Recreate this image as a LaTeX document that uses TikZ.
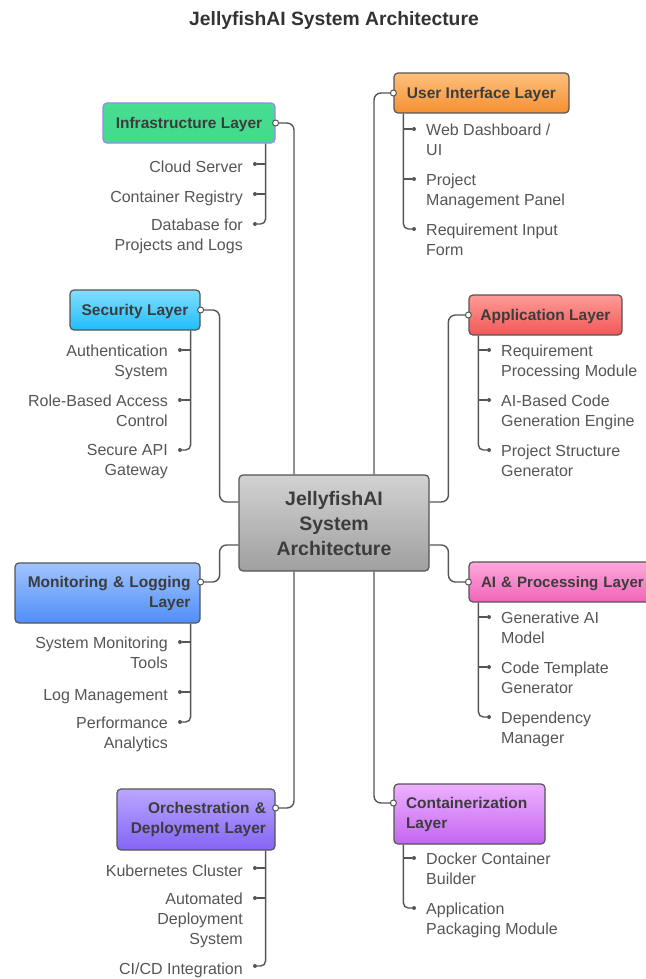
\documentclass[tikz,border=0pt]{standalone}
\usepackage{fontspec}
\setmainfont{Liberation Sans}
\definecolor{linec}{HTML}{555555}
\definecolor{boxtext}{HTML}{3C3C3C}
\definecolor{itemc}{HTML}{555555}
\definecolor{titlec}{HTML}{333333}
\begin{document}
\begin{tikzpicture}[x=1pt,y=-1pt,
  titlestyle/.style={font=\bfseries\fontsize{19.3}{23}\selectfont, text=titlec, inner sep=0pt},
  layer/.style={draw=linec, line width=1.2pt, rounded corners=4pt, font=\bfseries\fontsize{15.5}{20}\selectfont, text=boxtext, inner xsep=0pt, inner ysep=0pt, align=center},
  oneline/.style={text depth=0pt},
  conn/.style={draw=linec, line width=1.4pt, rounded corners=7pt},
  spine/.style={draw=linec, line width=1.4pt, rounded corners=5pt},
  dotn/.style={circle, fill=linec, inner sep=0pt, minimum size=4pt},
  port/.style={circle, draw=linec, fill=white, line width=1pt, inner sep=0pt, minimum size=6pt},
  itemR/.style={font=\fontsize{16}{20}\selectfont, text=itemc, inner sep=0pt, align=right, anchor=north east, execute at begin node=\strut},
  itemL/.style={font=\fontsize{16}{20}\selectfont, text=itemc, inner sep=0pt, align=left, anchor=north west, execute at begin node=\strut}
]
\useasboundingbox (0,0) rectangle (645,979);

\node[titlestyle] (title) at (334,21) {JellyfishAI System Architecture};

% central node
\node[layer, oneline, top color=gray!35, bottom color=gray!75, minimum width=190pt, minimum height=96pt, font=\bfseries\fontsize{19.5}{25}\selectfont] (core) at (334,523) {JellyfishAI\\System\\Architecture};

% layer boxes
\node[layer, oneline, draw={rgb,255:red,160;green,130;blue,245}, top color={rgb,255:red,72;green,222;blue,146}, bottom color={rgb,255:red,66;green,218;blue,140}, minimum width=172pt, minimum height=40pt] (infra) at (189,123) {Infrastructure Layer};
\node[layer, oneline, top color={rgb,255:red,255;green,192;blue,125}, bottom color={rgb,255:red,245;green,144;blue,48}, minimum width=175pt, minimum height=40pt] (ui) at (481.5,93) {User Interface Layer};
\node[layer, oneline, top color={rgb,255:red,130;green,222;blue,255}, bottom color={rgb,255:red,32;green,190;blue,250}, minimum width=130pt, minimum height=40pt] (sec) at (135,310) {Security Layer};
\node[layer, top color={rgb,255:red,160;green,196;blue,255}, bottom color={rgb,255:red,80;green,142;blue,247}, text width=166pt, inner xsep=9.5pt, align=right, minimum height=60pt] (mon) at (107.5,593) {Monitoring \& Logging\\Layer};
\node[layer, oneline, top color={rgb,255:red,255;green,155;blue,150}, bottom color={rgb,255:red,240;green,88;blue,88}, minimum width=153pt, minimum height=40pt] (app) at (545.5,315) {Application Layer};
\node[layer, oneline, top color={rgb,255:red,255;green,168;blue,220}, bottom color={rgb,255:red,240;green,100;blue,184}, text width=172pt, inner xsep=12pt, align=left, minimum height=40pt, font=\bfseries\fontsize{15.1}{20}\selectfont] (ai) at (567,582) {AI \& Processing Layer};
\node[layer, top color={rgb,255:red,186;green,166;blue,255}, bottom color={rgb,255:red,132;green,100;blue,245}, text width=140pt, inner xsep=9pt, align=right, minimum height=61pt] (orch) at (196,819.5) {Orchestration \&\\Deployment Layer};
\node[layer, top color={rgb,255:red,238;green,176;blue,255}, bottom color={rgb,255:red,196;green,102;blue,242}, text width=127pt, inner xsep=12pt, align=left, minimum height=60pt] (cont) at (469.5,814) {Containerization\\Layer};

% connectors to central node
\draw[conn] (infra.east) -| ([xshift=-40pt]core.north);
\draw[conn] (ui.west) -| ([xshift=40pt]core.north);
\draw[conn] (sec.east) -- ++(19,0) |- ([yshift=21pt]core.west);
\draw[conn] ([yshift=11pt]mon.east) -- ++(19,0) |- ([yshift=-22pt]core.west);
\draw[conn] (app.west) -- ++(-20,0) |- ([yshift=21pt]core.east);
\draw[conn] (ai.west) -- ++(-20,0) |- ([yshift=-22pt]core.east);
\draw[conn] ([yshift=11.5pt]orch.east) -| ([xshift=-40pt]core.south);
\draw[conn] ([yshift=11pt]cont.west) -| ([xshift=40pt]core.south);

\node[port] (infraP) at (infra.east) {};
\node[port] (uiP) at (ui.west) {};
\node[port] (secP) at (sec.east) {};
\node[port] (monP) at ([yshift=11pt]mon.east) {};
\node[port] (appP) at (app.west) {};
\node[port] (aiP) at (ai.west) {};
\node[port] (orchP) at ([yshift=11.5pt]orch.east) {};
\node[port] (contP) at ([yshift=11pt]cont.west) {};

% ---------- Infrastructure items
\coordinate (infraS) at ([xshift=-10pt]infra.south east);
\node[dotn] (infraD1) at (255,164) {};
\node[dotn] (infraD2) at (255,194) {};
\node[dotn] (infraD3) at (255,224) {};
\draw[spine] (infraS) |- (infraD3);
\draw[spine] (infraD1) -- (infraD1 -| infraS);
\draw[spine] (infraD2) -- (infraD2 -| infraS);
\node[itemR] (infraT1) at ([xshift=-12pt,yshift=5.5pt]infraD1.center) {Cloud Server};
\node[itemR] (infraT2) at ([xshift=-12pt,yshift=5.5pt]infraD2.center) {Container Registry};
\node[itemR] (infraT3) at ([xshift=-12pt,yshift=5.5pt]infraD3.center) {Database for\\Projects and Logs};

% ---------- User interface items
\coordinate (uiS) at ([xshift=10pt]ui.south west);
\node[dotn] (uiD1) at (414,129) {};
\node[dotn] (uiD2) at (414,179) {};
\node[dotn] (uiD3) at (414,229) {};
\draw[spine] (uiS) |- (uiD3);
\draw[spine] (uiD1) -- (uiD1 -| uiS);
\draw[spine] (uiD2) -- (uiD2 -| uiS);
\node[itemL] (uiT1) at ([xshift=12pt,yshift=5.5pt]uiD1.center) {Web Dashboard /\\UI};
\node[itemL] (uiT2) at ([xshift=12pt,yshift=5.5pt]uiD2.center) {Project\\Management Panel};
\node[itemL] (uiT3) at ([xshift=12pt,yshift=5.5pt]uiD3.center) {Requirement Input\\Form};

% ---------- Security items
\coordinate (secS) at ([xshift=-10pt]sec.south east);
\node[dotn] (secD1) at (180,350) {};
\node[dotn] (secD2) at (180,400) {};
\node[dotn] (secD3) at (180,450) {};
\draw[spine] (secS) |- (secD3);
\draw[spine] (secD1) -- (secD1 -| secS);
\draw[spine] (secD2) -- (secD2 -| secS);
\node[itemR] (secT1) at ([xshift=-12pt,yshift=5.5pt]secD1.center) {Authentication\\System};
\node[itemR] (secT2) at ([xshift=-12pt,yshift=5.5pt]secD2.center) {Role-Based Access\\Control};
\node[itemR] (secT3) at ([xshift=-12pt,yshift=5.5pt]secD3.center) {Secure API\\Gateway};

% ---------- Monitoring items
\coordinate (monS) at ([xshift=-10pt]mon.south east);
\node[dotn] (monD1) at (180,642) {};
\node[dotn] (monD2) at (180,692) {};
\node[dotn] (monD3) at (180,722) {};
\draw[spine] (monS) |- (monD3);
\draw[spine] (monD1) -- (monD1 -| monS);
\draw[spine] (monD2) -- (monD2 -| monS);
\node[itemR] (monT1) at ([xshift=-12pt,yshift=5.5pt]monD1.center) {System Monitoring\\Tools};
\node[itemR] (monT2) at ([xshift=-12pt,yshift=5.5pt]monD2.center) {Log Management};
\node[itemR] (monT3) at ([xshift=-12pt,yshift=5.5pt]monD3.center) {Performance\\Analytics};

% ---------- Application items
\coordinate (appS) at ([xshift=10pt]app.south west);
\node[dotn] (appD1) at (489,350) {};
\node[dotn] (appD2) at (489,400) {};
\node[dotn] (appD3) at (489,450) {};
\draw[spine] (appS) |- (appD3);
\draw[spine] (appD1) -- (appD1 -| appS);
\draw[spine] (appD2) -- (appD2 -| appS);
\node[itemL] (appT1) at ([xshift=12pt,yshift=5.5pt]appD1.center) {Requirement\\Processing Module};
\node[itemL] (appT2) at ([xshift=12pt,yshift=5.5pt]appD2.center) {AI-Based Code\\Generation Engine};
\node[itemL] (appT3) at ([xshift=12pt,yshift=5.5pt]appD3.center) {Project Structure\\Generator};

% ---------- AI items
\coordinate (aiS) at ([xshift=10pt]ai.south west);
\node[dotn] (aiD1) at (489,617) {};
\node[dotn] (aiD2) at (489,667) {};
\node[dotn] (aiD3) at (489,717) {};
\draw[spine] (aiS) |- (aiD3);
\draw[spine] (aiD1) -- (aiD1 -| aiS);
\draw[spine] (aiD2) -- (aiD2 -| aiS);
\node[itemL] (aiT1) at ([xshift=12pt,yshift=5.5pt]aiD1.center) {Generative AI\\Model};
\node[itemL] (aiT2) at ([xshift=12pt,yshift=5.5pt]aiD2.center) {Code Template\\Generator};
\node[itemL] (aiT3) at ([xshift=12pt,yshift=5.5pt]aiD3.center) {Dependency\\Manager};

% ---------- Orchestration items
\coordinate (orchS) at ([xshift=-10pt]orch.south east);
\node[dotn] (orchD1) at (255,868) {};
\node[dotn] (orchD2) at (255,898) {};
\node[dotn] (orchD3) at (255,966) {};
\draw[spine] (orchS) |- (orchD3);
\draw[spine] (orchD1) -- (orchD1 -| orchS);
\draw[spine] (orchD2) -- (orchD2 -| orchS);
\node[itemR] (orchT1) at ([xshift=-12pt,yshift=5.5pt]orchD1.center) {Kubernetes Cluster};
\node[itemR] (orchT2) at ([xshift=-12pt,yshift=5.5pt]orchD2.center) {Automated\\Deployment\\System};
\node[itemR] (orchT3) at ([xshift=-12pt,yshift=5.5pt]orchD3.center) {CI/CD Integration};

% ---------- Containerization items
\coordinate (contS) at ([xshift=10pt]cont.south west);
\node[dotn] (contD1) at (414,858) {};
\node[dotn] (contD2) at (414,908) {};
\draw[spine] (contS) |- (contD2);
\draw[spine] (contD1) -- (contD1 -| contS);
\node[itemL] (contT1) at ([xshift=12pt,yshift=5.5pt]contD1.center) {Docker Container\\Builder};
\node[itemL] (contT2) at ([xshift=12pt,yshift=5.5pt]contD2.center) {Application\\Packaging Module};
\end{tikzpicture}
\end{document}
